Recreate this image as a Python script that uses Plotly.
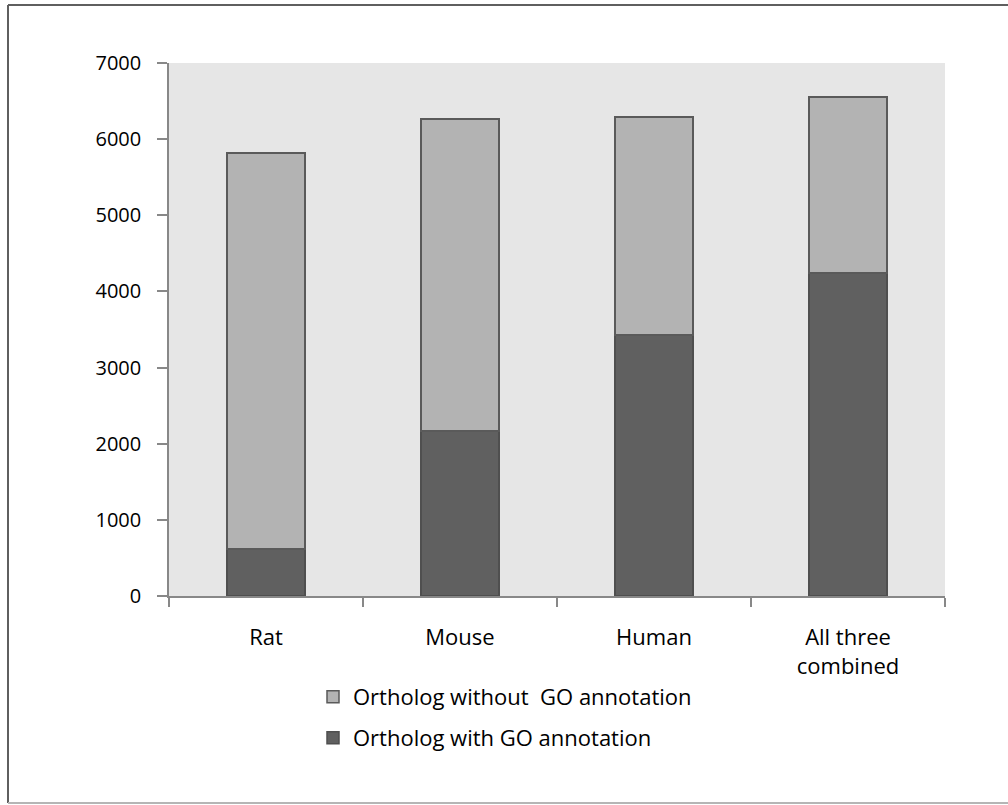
import plotly.graph_objects as go

categories = ["Rat", "Mouse", "Human", "All three<br>combined"]
with_go = [620, 2165, 3430, 4240]
totals = [5820, 6265, 6290, 6555]
without_go = [t - w for t, w in zip(totals, with_go)]
y_ticks = [0, 1000, 2000, 3000, 4000, 5000, 6000, 7000]

FONT = "Open Sans"
W, H = 1008, 805
L, R, T, B = 169, 945, 63, 596

def px(x):
    return (x - L) / (R - L)

def py(y):
    return (B - y) / (B - T)

fig = go.Figure()
fig.add_trace(go.Bar(
    x=categories, y=with_go, name="Ortholog with GO annotation",
    marker=dict(color="#606060", line=dict(color="#4f4f4f", width=1.5)),
    width=0.4, legend="legend2",
))
fig.add_trace(go.Bar(
    x=categories, y=without_go, name="Ortholog without  GO annotation",
    marker=dict(color="#b3b3b3", line=dict(color="#5a5a5a", width=1.5)),
    width=0.4, legend="legend",
))

fig.update_layout(
    width=W, height=H,
    margin=dict(l=L, r=W - R, t=T, b=H - B, autoexpand=False),
    barmode="stack",
    paper_bgcolor="white",
    plot_bgcolor="#e6e6e6",
    font=dict(family=FONT, size=22, color="#000000"),
    legend=dict(x=px(313), y=py(697), xanchor="left", yanchor="middle",
                bgcolor="rgba(0,0,0,0)", font=dict(size=22)),
    legend2=dict(x=px(313), y=py(738), xanchor="left", yanchor="middle",
                 bgcolor="rgba(0,0,0,0)", font=dict(size=22)),
    showlegend=True,
    bargap=0.6,
)
fig.update_xaxes(
    showline=True, linecolor="#888888", linewidth=1.5,
    ticks="outside", ticklen=9, tickcolor="#888888", tickwidth=1.5,
    tickson="boundaries", showgrid=False, ticklabelstandoff=21,
)
fig.update_yaxes(
    range=[0, 7000], tickvals=y_ticks, showline=True, linecolor="#888888", linewidth=1.5,
    ticks="outside", ticklen=10, tickcolor="#888888", tickwidth=1.5,
    showgrid=False, zeroline=False, ticklabelstandoff=12, tickfont=dict(size=20),
)

# outer frame
fig.add_shape(type="line", xref="paper", yref="paper",
              x0=px(8), x1=px(8), y0=py(5), y1=py(803),
              line=dict(color="#5f5f5f", width=2))
fig.add_shape(type="line", xref="paper", yref="paper",
              x0=px(8), x1=px(1010), y0=py(5), y1=py(5),
              line=dict(color="#5f5f5f", width=2))
fig.add_shape(type="line", xref="paper", yref="paper",
              x0=px(8), x1=px(1010), y0=py(803), y1=py(803),
              line=dict(color="#b5b5b5", width=2))

fig.write_html("out.html", config={"displayModeBar": False},
               post_script="document.body.style.margin='0';")
